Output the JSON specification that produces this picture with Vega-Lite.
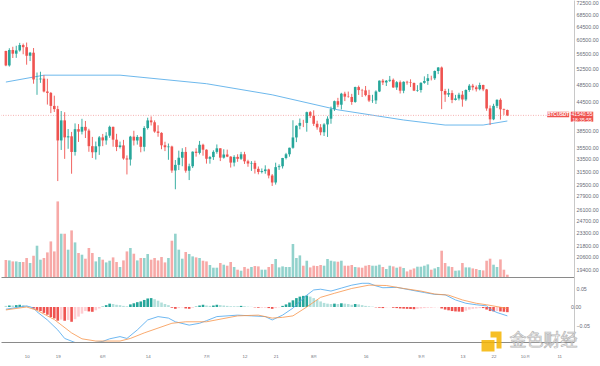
{
  "$schema": "https://vega.github.io/schema/vega-lite/v6.json",
  "padding": 0,
  "background": "white",
  "spacing": 0,
  "config": {
    "view": {"stroke": null},
    "font": "Liberation Sans",
    "axis": {"labelColor": "#6a6d78", "labelFont": "Liberation Sans", "grid": false, "ticks": false, "domainColor": "#8a8a8a", "domainWidth": 1, "labelOverlap": false},
    "axisX": {"labels": false}
  },
  "datasets": {
    "candles": [
      {"date":"2021-05-04","open":57169,"high":57200,"low":53000,"close":53205,"volume":61400},
      {"date":"2021-05-05","open":53205,"high":57939,"low":52900,"close":57436,"volume":59900},
      {"date":"2021-05-06","open":57436,"high":58360,"low":55200,"close":56393,"volume":56300},
      {"date":"2021-05-07","open":56393,"high":58650,"low":55241,"close":57314,"volume":56300},
      {"date":"2021-05-08","open":57314,"high":59500,"low":56975,"close":58862,"volume":54200},
      {"date":"2021-05-09","open":58862,"high":59300,"low":56235,"close":58240,"volume":54200},
      {"date":"2021-05-10","open":58240,"high":59592,"low":53400,"close":55816,"volume":68600},
      {"date":"2021-05-11","open":55816,"high":56880,"low":54370,"close":56670,"volume":50500},
      {"date":"2021-05-12","open":56670,"high":58000,"low":48600,"close":49631,"volume":76900},
      {"date":"2021-05-13","open":49631,"high":51367,"low":46000,"close":49670,"volume":113000},
      {"date":"2021-05-14","open":49670,"high":51570,"low":48800,"close":49841,"volume":62500},
      {"date":"2021-05-15","open":49841,"high":50700,"low":46555,"close":46762,"volume":68600},
      {"date":"2021-05-16","open":46762,"high":49800,"low":43825,"close":46431,"volume":88800},
      {"date":"2021-05-17","open":46431,"high":46643,"low":42001,"close":43538,"volume":128500},
      {"date":"2021-05-18","open":43538,"high":45800,"low":42250,"close":42849,"volume":92400},
      {"date":"2021-05-19","open":42849,"high":43546,"low":30000,"close":36690,"volume":272900},
      {"date":"2021-05-20","open":36690,"high":42451,"low":35000,"close":40526,"volume":156300},
      {"date":"2021-05-21","open":40526,"high":42200,"low":33488,"close":37252,"volume":156300},
      {"date":"2021-05-22","open":37252,"high":38829,"low":35200,"close":37449,"volume":98600},
      {"date":"2021-05-23","open":37449,"high":38270,"low":31111,"close":34655,"volume":168200},
      {"date":"2021-05-24","open":34655,"high":39920,"low":34031,"close":38796,"volume":124900},
      {"date":"2021-05-25","open":38796,"high":39791,"low":36419,"close":38324,"volume":86600},
      {"date":"2021-05-26","open":38324,"high":40841,"low":37800,"close":39241,"volume":80500},
      {"date":"2021-05-27","open":39241,"high":40411,"low":37134,"close":38529,"volume":66100},
      {"date":"2021-05-28","open":38529,"high":38877,"low":34684,"close":35664,"volume":104700},
      {"date":"2021-05-29","open":35664,"high":37338,"low":33632,"close":34605,"volume":86600},
      {"date":"2021-05-30","open":34605,"high":36489,"low":33379,"close":35641,"volume":56300},
      {"date":"2021-05-31","open":35641,"high":37499,"low":34153,"close":37253,"volume":72200},
      {"date":"2021-06-01","open":37253,"high":37894,"low":35667,"close":36693,"volume":62500},
      {"date":"2021-06-02","open":36694,"high":38225,"low":35920,"close":37568,"volume":52700},
      {"date":"2021-06-03","open":37568,"high":39476,"low":37170,"close":39246,"volume":58800},
      {"date":"2021-06-04","open":39246,"high":39289,"low":35568,"close":36830,"volume":70800},
      {"date":"2021-06-05","open":36830,"high":37916,"low":34800,"close":35520,"volume":54200},
      {"date":"2021-06-06","open":35520,"high":36480,"low":35258,"close":35797,"volume":36100},
      {"date":"2021-06-07","open":35797,"high":36790,"low":33350,"close":33553,"volume":59900},
      {"date":"2021-06-08","open":33553,"high":34069,"low":31004,"close":33380,"volume":92400},
      {"date":"2021-06-09","open":33380,"high":37534,"low":32397,"close":37388,"volume":104700},
      {"date":"2021-06-10","open":37388,"high":38491,"low":35782,"close":36676,"volume":84100},
      {"date":"2021-06-11","open":36677,"high":37680,"low":35936,"close":37331,"volume":59900},
      {"date":"2021-06-12","open":37331,"high":37463,"low":34600,"close":35546,"volume":68600},
      {"date":"2021-06-13","open":35546,"high":39380,"low":34757,"close":39020,"volume":68600},
      {"date":"2021-06-14","open":39021,"high":41064,"low":38730,"close":40516,"volume":83000},
      {"date":"2021-06-15","open":40516,"high":41330,"low":39506,"close":40144,"volume":62500},
      {"date":"2021-06-16","open":40143,"high":40527,"low":38116,"close":38349,"volume":68600},
      {"date":"2021-06-17","open":38349,"high":39560,"low":37365,"close":38092,"volume":59900},
      {"date":"2021-06-18","open":38092,"high":38202,"low":35130,"close":35820,"volume":72200},
      {"date":"2021-06-19","open":35821,"high":36457,"low":34803,"close":35483,"volume":52700},
      {"date":"2021-06-20","open":35483,"high":36137,"low":33336,"close":35600,"volume":68600},
      {"date":"2021-06-21","open":35600,"high":35750,"low":31251,"close":31608,"volume":131000},
      {"date":"2021-06-22","open":31615,"high":33298,"low":28805,"close":32509,"volume":156300},
      {"date":"2021-06-23","open":32509,"high":34881,"low":31683,"close":33678,"volume":98600},
      {"date":"2021-06-24","open":33675,"high":35298,"low":32286,"close":34663,"volume":66100},
      {"date":"2021-06-25","open":34663,"high":35500,"low":31275,"close":31584,"volume":90300},
      {"date":"2021-06-26","open":31577,"high":32700,"low":30151,"close":32283,"volume":83000},
      {"date":"2021-06-27","open":32283,"high":34749,"low":32000,"close":34700,"volume":74400},
      {"date":"2021-06-28","open":34702,"high":35297,"low":33862,"close":34494,"volume":70800},
      {"date":"2021-06-29","open":34494,"high":36600,"low":34225,"close":35911,"volume":68600},
      {"date":"2021-06-30","open":35911,"high":36100,"low":34017,"close":35045,"volume":58800},
      {"date":"2021-07-01","open":35045,"high":35100,"low":32711,"close":33504,"volume":56300},
      {"date":"2021-07-02","open":33502,"high":33977,"low":32699,"close":33786,"volume":43300},
      {"date":"2021-07-03","open":33786,"high":34945,"low":33316,"close":34669,"volume":33600},
      {"date":"2021-07-04","open":34669,"high":35967,"low":34357,"close":35286,"volume":33600},
      {"date":"2021-07-05","open":35288,"high":35293,"low":33125,"close":33690,"volume":50500},
      {"date":"2021-07-06","open":33690,"high":35118,"low":33532,"close":34221,"volume":44400},
      {"date":"2021-07-07","open":34220,"high":35059,"low":33777,"close":33863,"volume":40800},
      {"date":"2021-07-08","open":33863,"high":33929,"low":32078,"close":32875,"volume":54200},
      {"date":"2021-07-09","open":32875,"high":34100,"low":32261,"close":33815,"volume":36100},
      {"date":"2021-07-10","open":33816,"high":34262,"low":33004,"close":33502,"volume":26400},
      {"date":"2021-07-11","open":33503,"high":34666,"low":33306,"close":34259,"volume":22700},
      {"date":"2021-07-12","open":34259,"high":34679,"low":32658,"close":33086,"volume":36100},
      {"date":"2021-07-13","open":33086,"high":33340,"low":32203,"close":32729,"volume":30000},
      {"date":"2021-07-14","open":32729,"high":33114,"low":31550,"close":32820,"volume":36100},
      {"date":"2021-07-15","open":32820,"high":33185,"low":31133,"close":31880,"volume":39700},
      {"date":"2021-07-16","open":31874,"high":32249,"low":31020,"close":31383,"volume":38300},
      {"date":"2021-07-17","open":31383,"high":31935,"low":31164,"close":31520,"volume":26400},
      {"date":"2021-07-18","open":31520,"high":32435,"low":31108,"close":31778,"volume":26400},
      {"date":"2021-07-19","open":31778,"high":31899,"low":30407,"close":30839,"volume":36100},
      {"date":"2021-07-20","open":30839,"high":31063,"low":29278,"close":29790,"volume":46900},
      {"date":"2021-07-21","open":29790,"high":32859,"low":29482,"close":32144,"volume":65000},
      {"date":"2021-07-22","open":32144,"high":32591,"low":31708,"close":32287,"volume":34700},
      {"date":"2021-07-23","open":32287,"high":33650,"low":31925,"close":33634,"volume":38300},
      {"date":"2021-07-24","open":33634,"high":34500,"low":33401,"close":34258,"volume":36100},
      {"date":"2021-07-25","open":34261,"high":35398,"low":33851,"close":35381,"volume":36100},
      {"date":"2021-07-26","open":35381,"high":40550,"low":35205,"close":37237,"volume":119100},
      {"date":"2021-07-27","open":37241,"high":39542,"low":36383,"close":39457,"volume":68600},
      {"date":"2021-07-28","open":39456,"high":40900,"low":38772,"close":40019,"volume":78000},
      {"date":"2021-07-29","open":40019,"high":40640,"low":39200,"close":40016,"volume":40800},
      {"date":"2021-07-30","open":40018,"high":42316,"low":38313,"close":42206,"volume":58800},
      {"date":"2021-07-31","open":42207,"high":42448,"low":41000,"close":41461,"volume":34700},
      {"date":"2021-08-01","open":41461,"high":42599,"low":39422,"close":39845,"volume":40800},
      {"date":"2021-08-02","open":39850,"high":40459,"low":38690,"close":39147,"volume":39700},
      {"date":"2021-08-03","open":39146,"high":39780,"low":37642,"close":38207,"volume":43300},
      {"date":"2021-08-04","open":38207,"high":39969,"low":37508,"close":39723,"volume":40800},
      {"date":"2021-08-05","open":39723,"high":41350,"low":37332,"close":40862,"volume":65000},
      {"date":"2021-08-06","open":40862,"high":43392,"low":39853,"close":42836,"volume":58800},
      {"date":"2021-08-07","open":42836,"high":44700,"low":42446,"close":44572,"volume":56300},
      {"date":"2021-08-08","open":44572,"high":45310,"low":43261,"close":43794,"volume":55200},
      {"date":"2021-08-09","open":43794,"high":46454,"low":42779,"close":46253,"volume":58800},
      {"date":"2021-08-10","open":46248,"high":46700,"low":44589,"close":45584,"volume":40800},
      {"date":"2021-08-11","open":45585,"high":46743,"low":45341,"close":45511,"volume":40800},
      {"date":"2021-08-12","open":45511,"high":46218,"low":43770,"close":44399,"volume":43300},
      {"date":"2021-08-13","open":44400,"high":47887,"low":44217,"close":47800,"volume":36100},
      {"date":"2021-08-14","open":47800,"high":48144,"low":45971,"close":47091,"volume":34700},
      {"date":"2021-08-15","open":47097,"high":47372,"low":45500,"close":47019,"volume":33600},
      {"date":"2021-08-16","open":47019,"high":48053,"low":45660,"close":45936,"volume":40800},
      {"date":"2021-08-17","open":45936,"high":47160,"low":44376,"close":44696,"volume":43300},
      {"date":"2021-08-18","open":44686,"high":46000,"low":44203,"close":44741,"volume":40800},
      {"date":"2021-08-19","open":44741,"high":47033,"low":43955,"close":46760,"volume":40800},
      {"date":"2021-08-20","open":46763,"high":49382,"low":46622,"close":49339,"volume":44400},
      {"date":"2021-08-21","open":49339,"high":49757,"low":48273,"close":48905,"volume":36100},
      {"date":"2021-08-22","open":48901,"high":49500,"low":48050,"close":49321,"volume":28900},
      {"date":"2021-08-23","open":49321,"high":50500,"low":49028,"close":49546,"volume":40800},
      {"date":"2021-08-24","open":49546,"high":49875,"low":47600,"close":47706,"volume":38300},
      {"date":"2021-08-25","open":47706,"high":49230,"low":47126,"close":48960,"volume":33600},
      {"date":"2021-08-26","open":48960,"high":49380,"low":46300,"close":46942,"volume":37200},
      {"date":"2021-08-27","open":46942,"high":49170,"low":46363,"close":49058,"volume":32500},
      {"date":"2021-08-28","open":49058,"high":49309,"low":48371,"close":48897,"volume":20200},
      {"date":"2021-08-29","open":48897,"high":49667,"low":47800,"close":48767,"volume":26400},
      {"date":"2021-08-30","open":48767,"high":48888,"low":46853,"close":46970,"volume":31000},
      {"date":"2021-08-31","open":46970,"high":48246,"low":46700,"close":47100,"volume":37200},
      {"date":"2021-09-01","open":47100,"high":48950,"low":46512,"close":48810,"volume":37200},
      {"date":"2021-09-02","open":48811,"high":50400,"low":48584,"close":49247,"volume":40800},
      {"date":"2021-09-03","open":49247,"high":51000,"low":48316,"close":49942,"volume":45500},
      {"date":"2021-09-04","open":49942,"high":50558,"low":49400,"close":49918,"volume":26400},
      {"date":"2021-09-05","open":49918,"high":51900,"low":49500,"close":51757,"volume":31000},
      {"date":"2021-09-06","open":51757,"high":52780,"low":50969,"close":52663,"volume":36100},
      {"date":"2021-09-07","open":52660,"high":52920,"low":42843,"close":46863,"volume":94900},
      {"date":"2021-09-08","open":46869,"high":47381,"low":44413,"close":46049,"volume":50500},
      {"date":"2021-09-09","open":46048,"high":47400,"low":45515,"close":46395,"volume":38300},
      {"date":"2021-09-10","open":46396,"high":47031,"low":44132,"close":44851,"volume":36100},
      {"date":"2021-09-11","open":44842,"high":45987,"low":44722,"close":45173,"volume":22700},
      {"date":"2021-09-12","open":45173,"high":46460,"low":44742,"close":46026,"volume":23800},
      {"date":"2021-09-13","open":46026,"high":46876,"low":43370,"close":44941,"volume":50500},
      {"date":"2021-09-14","open":44941,"high":47250,"low":44594,"close":47111,"volume":34700},
      {"date":"2021-09-15","open":47103,"high":48500,"low":46682,"close":48122,"volume":34700},
      {"date":"2021-09-16","open":48121,"high":48557,"low":47021,"close":47737,"volume":31000},
      {"date":"2021-09-17","open":47737,"high":48170,"low":46750,"close":47299,"volume":28900},
      {"date":"2021-09-18","open":47299,"high":48843,"low":47033,"close":48292,"volume":25300},
      {"date":"2021-09-19","open":48293,"high":48361,"low":46829,"close":47241,"volume":23800},
      {"date":"2021-09-20","open":47241,"high":47358,"low":42500,"close":42990,"volume":58800},
      {"date":"2021-09-21","open":43016,"high":43639,"low":39600,"close":40734,"volume":66100},
      {"date":"2021-09-22","open":40730,"high":44000,"low":40565,"close":43543,"volume":44400},
      {"date":"2021-09-23","open":43546,"high":44978,"low":43069,"close":44865,"volume":36100},
      {"date":"2021-09-24","open":44866,"high":45200,"low":40675,"close":42810,"volume":63500},
      {"date":"2021-09-25","open":42811,"high":42966,"low":41646,"close":42670,"volume":26400},
      {"date":"2021-09-26","open":42670,"high":42750,"low":41400,"close":41540.55,"volume":8300}
    ],
    "ma": [
      {"date":"2021-05-04","ma":49000},
      {"date":"2021-05-15","ma":50700},
      {"date":"2021-06-06","ma":50700},
      {"date":"2021-07-01","ma":48600},
      {"date":"2021-07-20","ma":46000},
      {"date":"2021-08-08","ma":42700},
      {"date":"2021-08-27","ma":40600},
      {"date":"2021-09-08","ma":39600},
      {"date":"2021-09-19","ma":39600},
      {"date":"2021-09-26","ma":40400}
    ],
    "lines": [
      {"date":"2021-05-04","series":"MACD","value":-0.006},
      {"date":"2021-05-10","series":"MACD","value":0.003},
      {"date":"2021-05-12","series":"MACD","value":-0.003},
      {"date":"2021-05-13","series":"MACD","value":-0.013},
      {"date":"2021-05-16","series":"MACD","value":-0.035},
      {"date":"2021-05-19","series":"MACD","value":-0.062},
      {"date":"2021-05-21","series":"MACD","value":-0.085},
      {"date":"2021-05-24","series":"MACD","value":-0.096},
      {"date":"2021-05-28","series":"MACD","value":-0.098},
      {"date":"2021-06-01","series":"MACD","value":-0.093},
      {"date":"2021-06-03","series":"MACD","value":-0.086},
      {"date":"2021-06-06","series":"MACD","value":-0.080},
      {"date":"2021-06-08","series":"MACD","value":-0.085},
      {"date":"2021-06-11","series":"MACD","value":-0.062},
      {"date":"2021-06-14","series":"MACD","value":-0.035},
      {"date":"2021-06-17","series":"MACD","value":-0.026},
      {"date":"2021-06-20","series":"MACD","value":-0.030},
      {"date":"2021-06-22","series":"MACD","value":-0.040},
      {"date":"2021-06-26","series":"MACD","value":-0.049},
      {"date":"2021-06-29","series":"MACD","value":-0.044},
      {"date":"2021-07-01","series":"MACD","value":-0.037},
      {"date":"2021-07-04","series":"MACD","value":-0.026},
      {"date":"2021-07-10","series":"MACD","value":-0.022},
      {"date":"2021-07-14","series":"MACD","value":-0.024},
      {"date":"2021-07-18","series":"MACD","value":-0.026},
      {"date":"2021-07-20","series":"MACD","value":-0.035},
      {"date":"2021-07-23","series":"MACD","value":-0.022},
      {"date":"2021-07-26","series":"MACD","value":-0.003},
      {"date":"2021-07-30","series":"MACD","value":0.032},
      {"date":"2021-08-01","series":"MACD","value":0.046},
      {"date":"2021-08-03","series":"MACD","value":0.048},
      {"date":"2021-08-06","series":"MACD","value":0.043},
      {"date":"2021-08-09","series":"MACD","value":0.051},
      {"date":"2021-08-12","series":"MACD","value":0.059},
      {"date":"2021-08-15","series":"MACD","value":0.064},
      {"date":"2021-08-17","series":"MACD","value":0.064},
      {"date":"2021-08-19","series":"MACD","value":0.057},
      {"date":"2021-08-21","series":"MACD","value":0.052},
      {"date":"2021-08-25","series":"MACD","value":0.053},
      {"date":"2021-08-29","series":"MACD","value":0.046},
      {"date":"2021-09-02","series":"MACD","value":0.039},
      {"date":"2021-09-05","series":"MACD","value":0.034},
      {"date":"2021-09-08","series":"MACD","value":0.033},
      {"date":"2021-09-11","series":"MACD","value":0.019},
      {"date":"2021-09-14","series":"MACD","value":0.010},
      {"date":"2021-09-17","series":"MACD","value":0.006},
      {"date":"2021-09-20","series":"MACD","value":0.003},
      {"date":"2021-09-21","series":"MACD","value":-0.006},
      {"date":"2021-09-23","series":"MACD","value":-0.015},
      {"date":"2021-09-26","series":"MACD","value":-0.024},
      {"date":"2021-05-04","series":"Signal","value":-0.008},
      {"date":"2021-05-10","series":"Signal","value":0.000},
      {"date":"2021-05-13","series":"Signal","value":-0.009},
      {"date":"2021-05-18","series":"Signal","value":-0.034},
      {"date":"2021-05-23","series":"Signal","value":-0.070},
      {"date":"2021-05-26","series":"Signal","value":-0.086},
      {"date":"2021-05-30","series":"Signal","value":-0.092},
      {"date":"2021-06-06","series":"Signal","value":-0.092},
      {"date":"2021-06-09","series":"Signal","value":-0.085},
      {"date":"2021-06-13","series":"Signal","value":-0.070},
      {"date":"2021-06-17","series":"Signal","value":-0.057},
      {"date":"2021-06-21","series":"Signal","value":-0.044},
      {"date":"2021-06-25","series":"Signal","value":-0.040},
      {"date":"2021-07-01","series":"Signal","value":-0.040},
      {"date":"2021-07-10","series":"Signal","value":-0.024},
      {"date":"2021-07-16","series":"Signal","value":-0.022},
      {"date":"2021-07-20","series":"Signal","value":-0.030},
      {"date":"2021-07-23","series":"Signal","value":-0.028},
      {"date":"2021-07-26","series":"Signal","value":-0.024},
      {"date":"2021-07-30","series":"Signal","value":0.000},
      {"date":"2021-08-03","series":"Signal","value":0.026},
      {"date":"2021-08-07","series":"Signal","value":0.037},
      {"date":"2021-08-12","series":"Signal","value":0.050},
      {"date":"2021-08-17","series":"Signal","value":0.059},
      {"date":"2021-08-22","series":"Signal","value":0.058},
      {"date":"2021-08-27","series":"Signal","value":0.050},
      {"date":"2021-09-01","series":"Signal","value":0.043},
      {"date":"2021-09-05","series":"Signal","value":0.035},
      {"date":"2021-09-09","series":"Signal","value":0.032},
      {"date":"2021-09-13","series":"Signal","value":0.019},
      {"date":"2021-09-17","series":"Signal","value":0.010},
      {"date":"2021-09-20","series":"Signal","value":0.006},
      {"date":"2021-09-23","series":"Signal","value":0.001},
      {"date":"2021-09-26","series":"Signal","value":-0.004}
    ],
    "hist": [
      {"date":"2021-05-04","hist":0.003,"phase":"pd"},
      {"date":"2021-05-05","hist":0.004,"phase":"pu"},
      {"date":"2021-05-06","hist":0.004,"phase":"pd"},
      {"date":"2021-05-07","hist":0.005,"phase":"pu"},
      {"date":"2021-05-08","hist":0.006,"phase":"pu"},
      {"date":"2021-05-09","hist":0.005,"phase":"pd"},
      {"date":"2021-05-10","hist":0.002,"phase":"pd"},
      {"date":"2021-05-11","hist":0.001,"phase":"pd"},
      {"date":"2021-05-12","hist":-0.004,"phase":"nd"},
      {"date":"2021-05-13","hist":-0.008,"phase":"nd"},
      {"date":"2021-05-14","hist":-0.011,"phase":"nd"},
      {"date":"2021-05-15","hist":-0.016,"phase":"nd"},
      {"date":"2021-05-16","hist":-0.021,"phase":"nd"},
      {"date":"2021-05-17","hist":-0.027,"phase":"nd"},
      {"date":"2021-05-18","hist":-0.031,"phase":"nd"},
      {"date":"2021-05-19","hist":-0.037,"phase":"nd"},
      {"date":"2021-05-20","hist":-0.034,"phase":"nu"},
      {"date":"2021-05-21","hist":-0.037,"phase":"nd"},
      {"date":"2021-05-22","hist":-0.035,"phase":"nu"},
      {"date":"2021-05-23","hist":-0.040,"phase":"nd"},
      {"date":"2021-05-24","hist":-0.033,"phase":"nu"},
      {"date":"2021-05-25","hist":-0.026,"phase":"nu"},
      {"date":"2021-05-26","hist":-0.018,"phase":"nu"},
      {"date":"2021-05-27","hist":-0.011,"phase":"nu"},
      {"date":"2021-05-28","hist":-0.012,"phase":"nd"},
      {"date":"2021-05-29","hist":-0.013,"phase":"nd"},
      {"date":"2021-05-30","hist":-0.009,"phase":"nu"},
      {"date":"2021-05-31","hist":-0.004,"phase":"nu"},
      {"date":"2021-06-01","hist":0.001,"phase":"pu"},
      {"date":"2021-06-02","hist":0.005,"phase":"pu"},
      {"date":"2021-06-03","hist":0.009,"phase":"pu"},
      {"date":"2021-06-04","hist":0.008,"phase":"pd"},
      {"date":"2021-06-05","hist":0.006,"phase":"pd"},
      {"date":"2021-06-06","hist":0.005,"phase":"pd"},
      {"date":"2021-06-07","hist":0.003,"phase":"pd"},
      {"date":"2021-06-08","hist":0.002,"phase":"pd"},
      {"date":"2021-06-09","hist":0.007,"phase":"pu"},
      {"date":"2021-06-10","hist":0.010,"phase":"pu"},
      {"date":"2021-06-11","hist":0.013,"phase":"pu"},
      {"date":"2021-06-12","hist":0.015,"phase":"pu"},
      {"date":"2021-06-13","hist":0.019,"phase":"pu"},
      {"date":"2021-06-14","hist":0.023,"phase":"pu"},
      {"date":"2021-06-15","hist":0.024,"phase":"pu"},
      {"date":"2021-06-16","hist":0.021,"phase":"pd"},
      {"date":"2021-06-17","hist":0.017,"phase":"pd"},
      {"date":"2021-06-18","hist":0.012,"phase":"pd"},
      {"date":"2021-06-19","hist":0.008,"phase":"pd"},
      {"date":"2021-06-20","hist":0.005,"phase":"pd"},
      {"date":"2021-06-21","hist":-0.002,"phase":"nd"},
      {"date":"2021-06-22","hist":-0.005,"phase":"nd"},
      {"date":"2021-06-23","hist":-0.003,"phase":"nu"},
      {"date":"2021-06-24","hist":-0.001,"phase":"nu"},
      {"date":"2021-06-25","hist":-0.004,"phase":"nd"},
      {"date":"2021-06-26","hist":-0.005,"phase":"nd"},
      {"date":"2021-06-27","hist":-0.002,"phase":"nu"},
      {"date":"2021-06-28","hist":0.001,"phase":"pu"},
      {"date":"2021-06-29","hist":0.004,"phase":"pu"},
      {"date":"2021-06-30","hist":0.006,"phase":"pu"},
      {"date":"2021-07-01","hist":0.004,"phase":"pd"},
      {"date":"2021-07-02","hist":0.003,"phase":"pd"},
      {"date":"2021-07-03","hist":0.004,"phase":"pu"},
      {"date":"2021-07-04","hist":0.006,"phase":"pu"},
      {"date":"2021-07-05","hist":0.005,"phase":"pd"},
      {"date":"2021-07-06","hist":0.004,"phase":"pd"},
      {"date":"2021-07-07","hist":0.003,"phase":"pd"},
      {"date":"2021-07-08","hist":0.002,"phase":"pd"},
      {"date":"2021-07-09","hist":0.002,"phase":"pd"},
      {"date":"2021-07-10","hist":0.002,"phase":"pd"},
      {"date":"2021-07-11","hist":0.003,"phase":"pu"},
      {"date":"2021-07-12","hist":0.002,"phase":"pd"},
      {"date":"2021-07-13","hist":0.001,"phase":"pd"},
      {"date":"2021-07-14","hist":0.0005,"phase":"pd"},
      {"date":"2021-07-15","hist":-0.001,"phase":"nd"},
      {"date":"2021-07-16","hist":-0.002,"phase":"nd"},
      {"date":"2021-07-17","hist":-0.002,"phase":"nu"},
      {"date":"2021-07-18","hist":-0.002,"phase":"nu"},
      {"date":"2021-07-19","hist":-0.003,"phase":"nd"},
      {"date":"2021-07-20","hist":-0.005,"phase":"nd"},
      {"date":"2021-07-21","hist":-0.003,"phase":"nu"},
      {"date":"2021-07-22","hist":-0.001,"phase":"nu"},
      {"date":"2021-07-23","hist":0.003,"phase":"pu"},
      {"date":"2021-07-24","hist":0.007,"phase":"pu"},
      {"date":"2021-07-25","hist":0.012,"phase":"pu"},
      {"date":"2021-07-26","hist":0.018,"phase":"pu"},
      {"date":"2021-07-27","hist":0.024,"phase":"pu"},
      {"date":"2021-07-28","hist":0.028,"phase":"pu"},
      {"date":"2021-07-29","hist":0.030,"phase":"pu"},
      {"date":"2021-07-30","hist":0.031,"phase":"pu"},
      {"date":"2021-07-31","hist":0.028,"phase":"pd"},
      {"date":"2021-08-01","hist":0.024,"phase":"pd"},
      {"date":"2021-08-02","hist":0.019,"phase":"pd"},
      {"date":"2021-08-03","hist":0.015,"phase":"pd"},
      {"date":"2021-08-04","hist":0.011,"phase":"pd"},
      {"date":"2021-08-05","hist":0.009,"phase":"pd"},
      {"date":"2021-08-06","hist":0.008,"phase":"pd"},
      {"date":"2021-08-07","hist":0.009,"phase":"pu"},
      {"date":"2021-08-08","hist":0.008,"phase":"pd"},
      {"date":"2021-08-09","hist":0.010,"phase":"pu"},
      {"date":"2021-08-10","hist":0.009,"phase":"pd"},
      {"date":"2021-08-11","hist":0.008,"phase":"pd"},
      {"date":"2021-08-12","hist":0.006,"phase":"pd"},
      {"date":"2021-08-13","hist":0.008,"phase":"pu"},
      {"date":"2021-08-14","hist":0.007,"phase":"pd"},
      {"date":"2021-08-15","hist":0.005,"phase":"pd"},
      {"date":"2021-08-16","hist":0.003,"phase":"pd"},
      {"date":"2021-08-17","hist":0.002,"phase":"pd"},
      {"date":"2021-08-18","hist":0.001,"phase":"pd"},
      {"date":"2021-08-19","hist":-0.001,"phase":"nd"},
      {"date":"2021-08-20","hist":-0.002,"phase":"nd"},
      {"date":"2021-08-21","hist":-0.003,"phase":"nd"},
      {"date":"2021-08-22","hist":-0.001,"phase":"nu"},
      {"date":"2021-08-23","hist":-0.0005,"phase":"nu"},
      {"date":"2021-08-24","hist":-0.002,"phase":"nd"},
      {"date":"2021-08-25","hist":-0.003,"phase":"nd"},
      {"date":"2021-08-26","hist":-0.004,"phase":"nd"},
      {"date":"2021-08-27","hist":-0.0045,"phase":"nd"},
      {"date":"2021-08-28","hist":-0.005,"phase":"nd"},
      {"date":"2021-08-29","hist":-0.0055,"phase":"nd"},
      {"date":"2021-08-30","hist":-0.006,"phase":"nd"},
      {"date":"2021-08-31","hist":-0.005,"phase":"nu"},
      {"date":"2021-09-01","hist":-0.004,"phase":"nu"},
      {"date":"2021-09-02","hist":-0.003,"phase":"nu"},
      {"date":"2021-09-03","hist":-0.002,"phase":"nu"},
      {"date":"2021-09-04","hist":-0.002,"phase":"nu"},
      {"date":"2021-09-05","hist":-0.001,"phase":"nu"},
      {"date":"2021-09-06","hist":-0.0005,"phase":"nu"},
      {"date":"2021-09-07","hist":-0.004,"phase":"nd"},
      {"date":"2021-09-08","hist":-0.007,"phase":"nd"},
      {"date":"2021-09-09","hist":-0.009,"phase":"nd"},
      {"date":"2021-09-10","hist":-0.011,"phase":"nd"},
      {"date":"2021-09-11","hist":-0.012,"phase":"nd"},
      {"date":"2021-09-12","hist":-0.0125,"phase":"nd"},
      {"date":"2021-09-13","hist":-0.013,"phase":"nd"},
      {"date":"2021-09-14","hist":-0.010,"phase":"nu"},
      {"date":"2021-09-15","hist":-0.007,"phase":"nu"},
      {"date":"2021-09-16","hist":-0.005,"phase":"nu"},
      {"date":"2021-09-17","hist":-0.004,"phase":"nu"},
      {"date":"2021-09-18","hist":-0.003,"phase":"nu"},
      {"date":"2021-09-19","hist":-0.003,"phase":"nd"},
      {"date":"2021-09-20","hist":-0.007,"phase":"nd"},
      {"date":"2021-09-21","hist":-0.011,"phase":"nd"},
      {"date":"2021-09-22","hist":-0.012,"phase":"nd"},
      {"date":"2021-09-23","hist":-0.011,"phase":"nu"},
      {"date":"2021-09-24","hist":-0.012,"phase":"nd"},
      {"date":"2021-09-25","hist":-0.013,"phase":"nd"},
      {"date":"2021-09-26","hist":-0.014,"phase":"nd"}
    ],
    "last": [{"symbol":"BTCUSDT","price":41540.55,"label":"41540.55","timer":"18:35:55","brand":"金色财经","zero":"0.00"}]
  },
  "vconcat": [
    {
      "width": 573,
      "height": 277,
      "resolve": {"scale": {"y": "independent"}},
      "layer": [
        {
          "data": {"name": "candles"},
          "mark": {"type": "bar", "size": 2.6, "clip": true},
          "encoding": {
            "x": {"field": "date", "type": "temporal", "title": null, "scale": {"type": "utc", "nice": false, "domain": [{"year":2021,"month":5,"date":4,"hours":0,"minutes":50,"utc":true},{"year":2021,"month":10,"date":13,"hours":19,"minutes":40,"utc":true}]}},
            "y": {"field": "volume", "type": "quantitative", "scale": {"domain": [0, 1000000], "nice": false}, "axis": null},
            "color": {"condition": {"test": "datum.close >= datum.open", "value": "#92d2cc"}, "value": "#f7a9a7"}
          }
        },
        {
          "layer": [
            {
              "data": {"name": "ma"},
              "mark": {"type": "line", "color": "#5cb0ea", "strokeWidth": 0.9, "clip": true},
              "encoding": {
                "x": {"field": "date", "type": "temporal", "title": null},
                "y": {"field": "ma", "type": "quantitative", "title": null,
                  "scale": {"type": "log", "nice": false, "zero": false, "domain": [18650, 73580]},
                  "axis": {"orient": "right", "values": [72500,68500,64500,60500,56500,52500,48500,44500,38500,35500,33500,31500,29500,27900,26100,24700,23300,21800,20600,19400], "format": ".2f", "labelFontSize": 5.3, "labelPadding": 2, "domainColor": "#c8c8c8", "labelBaseline": "middle"}}
              }
            },
            {
              "data": {"name": "last"},
              "mark": {"type": "rule", "color": "#f2a0a0", "strokeWidth": 0.8, "strokeDash": [1, 1.5]},
              "encoding": {"y": {"field": "price", "type": "quantitative", "title": null}}
            },
            {
              "data": {"name": "candles"},
              "mark": {"type": "rule", "strokeWidth": 0.9, "clip": true},
              "encoding": {
                "x": {"field": "date", "type": "temporal", "title": null},
                "y": {"field": "low", "type": "quantitative", "title": null},
                "y2": {"field": "high"},
                "color": {"condition": {"test": "datum.close >= datum.open", "value": "#26a69a"}, "value": "#ef5350"}
              }
            },
            {
              "data": {"name": "candles"},
              "mark": {"type": "rule", "strokeWidth": 2.6, "clip": true},
              "encoding": {
                "x": {"field": "date", "type": "temporal", "title": null},
                "y": {"field": "open", "type": "quantitative", "title": null},
                "y2": {"field": "close"},
                "color": {"condition": {"test": "datum.close >= datum.open", "value": "#26a69a"}, "value": "#ef5350"}
              }
            },
            {
              "data": {"name": "last"},
              "mark": {"type": "point", "shape": "M-1,-0.25H1V0.25H-1Z", "size": 484, "filled": true, "color": "#ef5350", "opacity": 1, "clip": false},
              "encoding": {
                "x": {"datum": {"year":2021,"month":10,"date":10,"hours":16,"minutes":35,"utc":true}, "type": "temporal"},
                "y": {"datum": 41720, "type": "quantitative"}
              }
            },
            {
              "data": {"name": "last"},
              "mark": {"type": "point", "shape": "M-1,-0.444H1V0.444H-1Z", "size": 506, "filled": true, "color": "#ef5350", "opacity": 1, "clip": false},
              "encoding": {
                "x": {"datum": {"year":2021,"month":10,"date":17,"hours":13,"minutes":55,"utc":true}, "type": "temporal"},
                "y": {"datum": 41270, "type": "quantitative"}
              }
            },
            {
              "data": {"name": "last"},
              "mark": {"type": "text", "color": "white", "fontSize": 4.6, "fontWeight": "bold", "align": "center", "baseline": "middle", "clip": false},
              "encoding": {
                "x": {"datum": {"year":2021,"month":10,"date":10,"hours":16,"minutes":35,"utc":true}, "type": "temporal"},
                "y": {"datum": 41720, "type": "quantitative"},
                "text": {"field": "symbol"}
              }
            },
            {
              "data": {"name": "last"},
              "mark": {"type": "text", "color": "white", "fontSize": 5, "align": "center", "baseline": "middle", "clip": false},
              "encoding": {
                "x": {"datum": {"year":2021,"month":10,"date":17,"hours":13,"minutes":55,"utc":true}, "type": "temporal"},
                "y": {"datum": 41900, "type": "quantitative"},
                "text": {"field": "label"}
              }
            },
            {
              "data": {"name": "last"},
              "mark": {"type": "text", "color": "white", "fontSize": 5, "align": "center", "baseline": "middle", "clip": false},
              "encoding": {
                "x": {"datum": {"year":2021,"month":10,"date":17,"hours":13,"minutes":55,"utc":true}, "type": "temporal"},
                "y": {"datum": 40650, "type": "quantitative"},
                "text": {"field": "timer"}
              }
            }
          ]
        }
      ]
    },
    {
      "width": 573,
      "height": 65,
      "resolve": {"scale": {"color": "independent"}},
      "layer": [
        {
          "data": {"name": "hist"},
          "mark": {"type": "bar", "size": 2.6, "clip": true},
          "encoding": {
            "x": {"field": "date", "type": "temporal", "title": null,
              "scale": {"type": "utc", "nice": false, "domain": [{"year":2021,"month":5,"date":4,"hours":0,"minutes":50,"utc":true},{"year":2021,"month":10,"date":13,"hours":19,"minutes":40,"utc":true}]},
              "axis": {"labels": true, "labelFontSize": 4.4, "labelPadding": 14, "labelBaseline": "middle", "domainColor": "#8a8a8a",
                "values": [
                  {"year":2021,"month":5,"date":10,"utc":true},{"year":2021,"month":5,"date":19,"utc":true},{"year":2021,"month":6,"date":1,"utc":true},{"year":2021,"month":6,"date":14,"utc":true},{"year":2021,"month":7,"date":1,"utc":true},{"year":2021,"month":7,"date":12,"utc":true},{"year":2021,"month":7,"date":21,"utc":true},{"year":2021,"month":8,"date":1,"utc":true},{"year":2021,"month":8,"date":16,"utc":true},{"year":2021,"month":9,"date":1,"utc":true},{"year":2021,"month":9,"date":13,"utc":true},{"year":2021,"month":9,"date":22,"utc":true},{"year":2021,"month":10,"date":1,"utc":true},{"year":2021,"month":10,"date":11,"utc":true}],
                "labelExpr": "utcdate(datum.value) == 1 ? (utcmonth(datum.value) + 1) + '月' : '' + utcdate(datum.value)"}},
            "y": {"field": "hist", "type": "quantitative", "title": null,
              "scale": {"domain": [-0.0946, 0.081], "nice": false, "zero": false},
              "axis": {"orient": "right", "values": [-0.05, 0.05], "format": ".2f", "labelFontSize": 5.3, "labelPadding": 2, "domainColor": "#c8c8c8", "labelBaseline": "middle", "labelOverlap": false}},
            "color": {"field": "phase", "type": "nominal", "legend": null,
              "scale": {"domain": ["pu", "pd", "nd", "nu"], "range": ["#26a69a", "#b2dfdb", "#ef5350", "#ffcdd2"]}}
          }
        },
        {
          "data": {"name": "lines"},
          "mark": {"type": "line", "strokeWidth": 0.8, "clip": true},
          "encoding": {
            "x": {"field": "date", "type": "temporal", "title": null},
            "y": {"field": "value", "type": "quantitative", "title": null},
            "color": {"field": "series", "type": "nominal", "legend": null,
              "scale": {"domain": ["MACD", "Signal"], "range": ["#4aa6ee", "#f7944a"]}}
          }
        },
        {
          "data": {"name": "last"},
          "mark": {"type": "text", "color": "#6a6d78", "font": "Liberation Sans", "fontSize": 5.3, "align": "left", "baseline": "middle", "clip": false},
          "encoding": {
            "x": {"datum": {"year":2021,"month":10,"date":14,"hours":9,"minutes":20,"utc":true}, "type": "temporal"},
            "y": {"datum": 0, "type": "quantitative"},
            "text": {"field": "zero"}
          }
        },
        {
          "data": {"name": "last"},
          "mark": {"type": "point", "shape": "M-0.1,-1H1V0.7H0.5V-0.4H-0.1Z M-1,-0.15H0.3V1H-1Z", "size": 400, "filled": true, "color": "#f5b400", "opacity": 0.85, "clip": false},
          "encoding": {
            "x": {"datum": {"year":2021,"month":9,"date":21,"hours":10,"utc":true}, "type": "temporal"},
            "y": {"datum": -0.0932, "type": "quantitative"}
          }
        },
        {
          "data": {"name": "last"},
          "mark": {"type": "text", "fontSize": 17, "font": "Noto Sans CJK SC", "fill": "#ffffff", "fillOpacity": 0.3, "stroke": "#b5b5b5", "strokeWidth": 0.7, "align": "center", "baseline": "middle", "clip": false},
          "encoding": {
            "x": {"datum": {"year":2021,"month":10,"date":6,"hours":10,"utc":true}, "type": "temporal"},
            "y": {"datum": -0.0932, "type": "quantitative"},
            "text": {"field": "brand"}
          }
        }
      ]
    }
  ]
}
